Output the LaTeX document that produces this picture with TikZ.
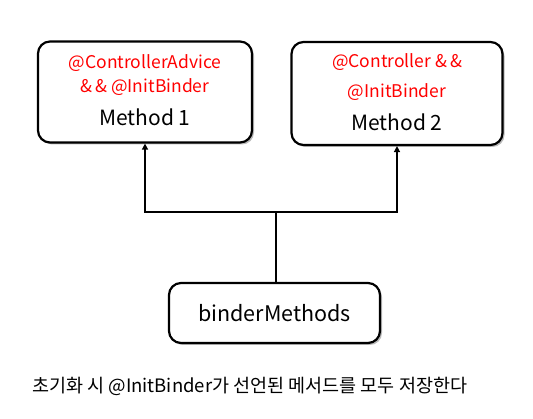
\documentclass[tikz,border=0pt]{standalone}
\usepackage{fontspec}
\setmainfont{Noto Sans CJK KR}
\usetikzlibrary{shadows,arrows.meta}
\begin{document}
\begin{tikzpicture}[x=1pt,y=-1pt,
  box/.style={draw=black,line width=2.2pt,rounded corners=12pt,fill=white,
    drop shadow={shadow xshift=2pt,shadow yshift=-2pt,fill=black!45,opacity=0.6},
    align=center,inner sep=0pt},
  redtxt/.style={text=red,font=\fontsize{17.5}{20}\selectfont,inner sep=0pt},
  lbl/.style={font=\fontsize{21}{24}\selectfont,inner sep=0pt},
  conn/.style={line width=2.2pt,-{Triangle[length=6pt,width=6pt]}}]
\useasboundingbox (0,0) rectangle (533,419);
\node[box,minimum width=214pt,minimum height=101pt] (m1) at (145,92) {};
\node[redtxt] (t1a) at (145,63) {@ControllerAdvice};
\node[redtxt] (t1b) at (145,87) {\&\,\& @InitBinder};
\node[lbl] (l1) at (145,117) {Method 1};
\node[box,minimum width=211pt,minimum height=103pt] (m2) at (397,93.5) {};
\node[redtxt] (t2a) at (397,62) {@Controller \&\,\&};
\node[redtxt] (t2b) at (397,92) {@InitBinder};
\node[lbl] (l2) at (397,122) {Method 2};
\node[box,minimum width=211pt,minimum height=60pt,font=\fontsize{21.5}{24}\selectfont] (bm) at (274.5,313) {binderMethods};
\coordinate (j) at (276,212);
\draw[line width=2.2pt] (bm.north -| j) -- (j);
\draw[conn] (j) -| (m1.south);
\draw[conn] (j) -| (m2.south);
\node[anchor=west,font=\fontsize{18.5}{20}\selectfont,inner sep=0pt] (cap) at (32,386) {초기화 시 @InitBinder가 선언된 메서드를 모두 저장한다};
\end{tikzpicture}
\end{document}
